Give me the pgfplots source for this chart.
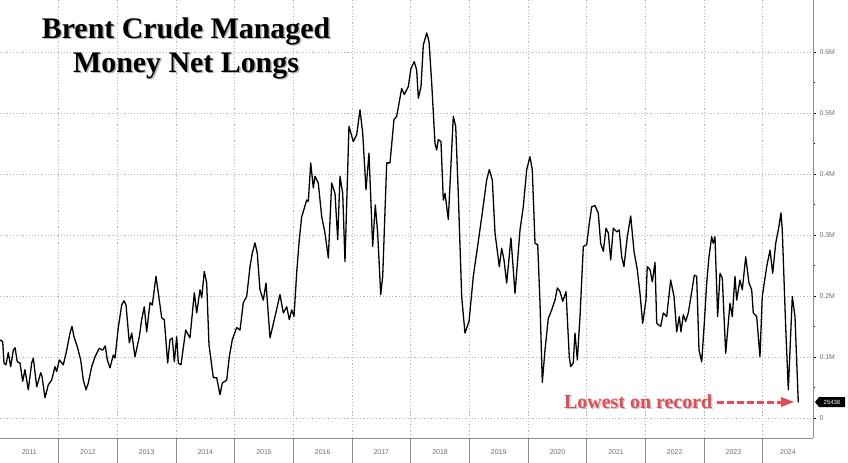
\documentclass[border=0pt]{standalone}
\usepackage{pgfplots}
\pgfplotsset{compat=1.18}
\usepackage{fontspec}
\setmainfont{Liberation Serif}
\setsansfont{Liberation Sans}
\definecolor{gridgray}{RGB}{185,185,185}
\definecolor{axgray}{RGB}{140,140,140}
\definecolor{lblgray}{RGB}{110,110,110}
\definecolor{recred}{RGB}{222,78,88}

\begin{document}
\begin{tikzpicture}
\begin{axis}[
  at={(0,0)}, anchor=north west,
  scale only axis, width=813bp, height=438bp,
  xmin=2011, xmax=2024.857, ymin=-0.033, ymax=0.685,
  axis x line=bottom, axis y line=right,
  axis line style={axgray, line width=0.8pt, -},
  tick align=outside,
  major tick length=3bp, minor tick length=2bp,
  tick style={black, line width=0.5pt},
  xtick={2012,2013,...,2024}, xticklabels={},
  minor x tick num=3,
  extra x ticks={2011.5,2012.5,2013.5,2014.5,2015.5,2016.5,2017.5,2018.5,2019.5,2020.5,2021.5,2022.5,2023.5,2024.43},
  extra x tick labels={2011,2012,2013,2014,2015,2016,2017,2018,2019,2020,2021,2022,2023,2024},
  extra x tick style={grid=none, tick style={draw=none},
    tick label style={yshift=-5bp}},
  ytick={0,0.1,...,0.6},
  yticklabels={0,0.1M,0.2M,0.3M,0.4M,0.5M,0.6M},
  minor y tick num=1,
  xmajorgrids, ymajorgrids,
  major grid style={gridgray, line width=0.7pt, dash pattern=on 1.2pt off 2pt},
  tick label style={font=\sffamily\fontsize{7}{8}\selectfont, text=lblgray},
]
\addplot[black, line width=1.3pt, line join=round] coordinates {
(2011.000,0.128) (2011.046,0.125) (2011.068,0.090) (2011.102,0.087) (2011.141,0.107)
(2011.182,0.084) (2011.227,0.111) (2011.256,0.115) (2011.295,0.092) (2011.341,0.090)
(2011.387,0.060) (2011.426,0.079) (2011.482,0.046) (2011.540,0.090) (2011.568,0.098)
(2011.626,0.051) (2011.694,0.074) (2011.716,0.068) (2011.767,0.033) (2011.823,0.054)
(2011.881,0.062) (2011.937,0.084) (2011.966,0.076) (2012.011,0.095) (2012.079,0.087)
(2012.137,0.111) (2012.193,0.139) (2012.227,0.150) (2012.261,0.133) (2012.317,0.117)
(2012.375,0.095) (2012.420,0.062) (2012.466,0.046) (2012.505,0.057) (2012.563,0.084)
(2012.619,0.100) (2012.692,0.114) (2012.750,0.111) (2012.795,0.118) (2012.829,0.095)
(2012.875,0.082) (2012.931,0.103) (2012.960,0.098) (2013.016,0.148) (2013.074,0.185)
(2013.113,0.192) (2013.148,0.185) (2013.204,0.123) (2013.245,0.139) (2013.301,0.100)
(2013.374,0.133) (2013.415,0.161) (2013.459,0.182) (2013.500,0.141) (2013.557,0.189)
(2013.596,0.185) (2013.659,0.232) (2013.698,0.205) (2013.756,0.164) (2013.800,0.161)
(2013.858,0.090) (2013.897,0.128) (2013.937,0.131) (2013.971,0.092) (2014.012,0.133)
(2014.039,0.090) (2014.085,0.087) (2014.165,0.144) (2014.238,0.131) (2014.312,0.205)
(2014.353,0.172) (2014.409,0.210) (2014.438,0.197) (2014.482,0.240) (2014.523,0.221)
(2014.562,0.120) (2014.636,0.066) (2014.693,0.066) (2014.750,0.038) (2014.789,0.057)
(2014.864,0.062) (2014.908,0.100) (2014.959,0.128) (2015.034,0.148) (2015.091,0.144)
(2015.147,0.189) (2015.205,0.199) (2015.261,0.248) (2015.300,0.270) (2015.346,0.287)
(2015.385,0.270) (2015.431,0.210) (2015.488,0.193) (2015.534,0.221) (2015.602,0.131)
(2015.687,0.166) (2015.772,0.202) (2015.829,0.172) (2015.887,0.182) (2015.931,0.161)
(2015.972,0.177) (2016.011,0.166) (2016.057,0.238) (2016.101,0.292) (2016.142,0.330)
(2016.169,0.338) (2016.227,0.357) (2016.255,0.355) (2016.296,0.418) (2016.340,0.377)
(2016.369,0.396) (2016.425,0.385) (2016.483,0.330) (2016.539,0.303) (2016.596,0.262)
(2016.653,0.385) (2016.710,0.368) (2016.756,0.292) (2016.795,0.396) (2016.841,0.368)
(2016.880,0.256) (2016.948,0.478) (2017.022,0.453) (2017.079,0.464) (2017.136,0.505)
(2017.182,0.467) (2017.238,0.374) (2017.289,0.434) (2017.352,0.281) (2017.397,0.349)
(2017.437,0.303) (2017.489,0.202) (2017.523,0.232) (2017.591,0.418) (2017.647,0.418)
(2017.715,0.489) (2017.761,0.494) (2017.846,0.540) (2017.891,0.530) (2017.959,0.543)
(2018.005,0.573) (2018.061,0.584) (2018.102,0.570) (2018.130,0.524) (2018.176,0.543)
(2018.215,0.611) (2018.273,0.631) (2018.312,0.617) (2018.358,0.549) (2018.414,0.450)
(2018.443,0.439) (2018.470,0.456) (2018.516,0.453) (2018.556,0.357) (2018.585,0.368)
(2018.641,0.325) (2018.726,0.494) (2018.767,0.478) (2018.811,0.368) (2018.869,0.199)
(2018.925,0.139) (2018.994,0.158) (2019.067,0.232) (2019.152,0.289) (2019.220,0.336)
(2019.295,0.390) (2019.340,0.407) (2019.391,0.390) (2019.437,0.303) (2019.510,0.248)
(2019.551,0.278) (2019.590,0.259) (2019.636,0.221) (2019.709,0.295) (2019.778,0.204)
(2019.863,0.308) (2019.919,0.346) (2019.977,0.407) (2020.033,0.428) (2020.072,0.407)
(2020.119,0.286) (2020.165,0.284) (2020.204,0.188) (2020.243,0.058) (2020.289,0.111)
(2020.345,0.163) (2020.403,0.177) (2020.459,0.193) (2020.499,0.213) (2020.545,0.207)
(2020.591,0.191) (2020.647,0.207) (2020.703,0.100) (2020.727,0.084) (2020.771,0.090)
(2020.800,0.139) (2020.840,0.095) (2020.886,0.166) (2020.942,0.281) (2021.000,0.284)
(2021.044,0.319) (2021.085,0.346) (2021.141,0.348) (2021.197,0.336) (2021.238,0.286)
(2021.283,0.273) (2021.329,0.311) (2021.368,0.303) (2021.409,0.259) (2021.453,0.311)
(2021.511,0.305) (2021.555,0.308) (2021.596,0.264) (2021.635,0.248) (2021.692,0.297)
(2021.750,0.331) (2021.806,0.273) (2021.862,0.243) (2021.908,0.204) (2021.954,0.155)
(2022.010,0.193) (2022.032,0.248) (2022.079,0.243) (2022.118,0.223) (2022.164,0.255)
(2022.193,0.155) (2022.261,0.150) (2022.305,0.172) (2022.363,0.166) (2022.431,0.226)
(2022.488,0.199) (2022.534,0.141) (2022.578,0.166) (2022.607,0.141) (2022.646,0.169)
(2022.687,0.158) (2022.731,0.172) (2022.777,0.199) (2022.834,0.234) (2022.874,0.232)
(2022.914,0.111) (2022.960,0.092) (2023.004,0.155) (2023.045,0.221) (2023.084,0.264)
(2023.130,0.297) (2023.157,0.286) (2023.186,0.297) (2023.232,0.166) (2023.272,0.237)
(2023.311,0.229) (2023.369,0.106) (2023.442,0.188) (2023.481,0.166) (2023.527,0.232)
(2023.556,0.193) (2023.612,0.226) (2023.652,0.210) (2023.710,0.264) (2023.766,0.221)
(2023.812,0.210) (2023.839,0.172) (2023.897,0.166) (2023.953,0.100) (2023.992,0.199)
(2024.068,0.248) (2024.124,0.275) (2024.170,0.237) (2024.221,0.286) (2024.277,0.314)
(2024.311,0.336) (2024.333,0.308) (2024.391,0.150) (2024.436,0.046) (2024.504,0.199)
(2024.550,0.166) (2024.606,0.025438)
};
\end{axis}

% year separators below the axis
\foreach \k in {1,...,13} {
  \draw[axgray, line width=0.6pt] ({\k*58.67bp},-438bp) -- ({\k*58.67bp},-463bp);
}

% title with soft shadow
\begin{scope}[font=\fontsize{30}{34}\selectfont\bfseries]
  \node[align=center, anchor=north, text=black!35, opacity=0.8] at (187.5bp,-15.5bp) {Brent Crude Managed\\Money Net Longs};
  \node[align=center, anchor=north] at (186bp,-14bp) {Brent Crude Managed\\Money Net Longs};
\end{scope}

% annotation
\begin{scope}[font=\fontsize{20}{22}\selectfont\bfseries]
  \node[anchor=base west, text=black!30, opacity=0.7, inner sep=0pt] at (565.5bp,-409.5bp) {Lowest on record};
  \node[anchor=base west, text=recred, inner sep=0pt] at (564bp,-408bp) {Lowest on record};
\end{scope}
\draw[recred, line width=3bp, dash pattern=on 7bp off 3bp] (717bp,-402bp) -- (782bp,-402bp);
\fill[recred] (781bp,-397bp) -- (794bp,-402bp) -- (781bp,-407bp) -- cycle;

% last value box
\fill[black] (815bp,-402bp) -- (819bp,-397bp) -- (845bp,-397bp) -- (845bp,-407bp) -- (819bp,-407bp) -- cycle;
\node[text=white, font=\sffamily\fontsize{6}{6}\selectfont, inner sep=0pt] at (832bp,-402bp) {25438};

\pgfresetboundingbox
\useasboundingbox (0,0) rectangle (848bp,-463bp);
\end{tikzpicture}
\end{document}
